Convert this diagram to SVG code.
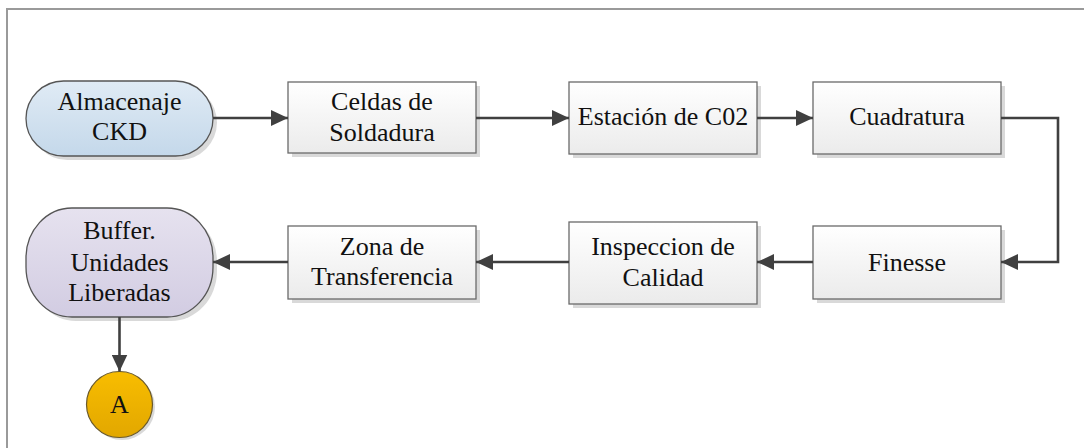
<svg xmlns="http://www.w3.org/2000/svg" width="1084" height="448" viewBox="0 0 1084 448">
<defs>
<linearGradient id="gBox" x1="0" y1="0" x2="0" y2="1"><stop offset="0" stop-color="#ffffff"/><stop offset="1" stop-color="#ebebeb"/></linearGradient>
<linearGradient id="gBlue" x1="0" y1="0" x2="0" y2="1"><stop offset="0" stop-color="#e0ebf5"/><stop offset="1" stop-color="#c4d8ea"/></linearGradient>
<linearGradient id="gLav" x1="0" y1="0" x2="0" y2="1"><stop offset="0" stop-color="#e6e2ef"/><stop offset="1" stop-color="#d2cce2"/></linearGradient>
<linearGradient id="gGold" x1="0" y1="0" x2="0" y2="1"><stop offset="0" stop-color="#f8bd00"/><stop offset="1" stop-color="#e2a700"/></linearGradient>
<marker id="arr" markerUnits="userSpaceOnUse" markerWidth="18" markerHeight="16" refX="17" refY="8" orient="auto"><path d="M0,0 L17,8 L0,16 Z" fill="#404040"/></marker>
<style>
.box{fill:url(#gBox);stroke:#6a6a6a;stroke-width:1.3}
.sh{fill:#d9d9d9}
.t{font-family:"Liberation Serif","Times New Roman",serif;font-size:26px;fill:#111;text-anchor:middle}
.c{fill:none;stroke:#404040;stroke-width:2.6;marker-end:url(#arr)}
</style>
</defs>
<rect width="1084" height="448" fill="#ffffff"/>
<path d="M7,448 V9 H1084" fill="none" stroke="#9a9a9a" stroke-width="2"/>
<g id="almacenaje">
<rect class="sh" x="30" y="85" width="187" height="75" rx="37.5"/>
<rect x="26" y="81" width="187" height="75" rx="37.5" fill="url(#gBlue)" stroke="#555" stroke-width="1.3"/>
<text class="t" x="119.5" y="110">Almacenaje</text>
<text class="t" x="119.5" y="140">CKD</text>
</g>
<g id="celdas">
<rect class="sh" x="292" y="86" width="188" height="71"/>
<rect class="box" x="288" y="82" width="188" height="71"/>
<text class="t" x="382" y="110">Celdas de</text>
<text class="t" x="382" y="141">Soldadura</text>
</g>
<g id="estacion">
<rect class="sh" x="573" y="86" width="188" height="72"/>
<rect class="box" x="569" y="82" width="188" height="72"/>
<text class="t" x="663" y="125">Estación de C02</text>
</g>
<g id="cuadratura">
<rect class="sh" x="817" y="86" width="188" height="72"/>
<rect class="box" x="813" y="82" width="188" height="72"/>
<text class="t" x="907" y="125">Cuadratura</text>
</g>
<g id="finesse">
<rect class="sh" x="817" y="230" width="188" height="73"/>
<rect class="box" x="813" y="226" width="188" height="73"/>
<text class="t" x="907" y="271">Finesse</text>
</g>
<g id="inspeccion">
<rect class="sh" x="573" y="226" width="188" height="82"/>
<rect class="box" x="569" y="222" width="188" height="82"/>
<text class="t" x="663" y="255">Inspeccion de</text>
<text class="t" x="663" y="286">Calidad</text>
</g>
<g id="zona">
<rect class="sh" x="292" y="230" width="188" height="73"/>
<rect class="box" x="288" y="226" width="188" height="73"/>
<text class="t" x="382" y="255">Zona de</text>
<text class="t" x="382" y="285">Transferencia</text>
</g>
<g id="buffer">
<rect class="sh" x="30" y="212" width="187" height="109" rx="46" ry="50"/>
<rect x="26" y="208" width="187" height="109" rx="46" ry="50" fill="url(#gLav)" stroke="#555" stroke-width="1.3"/>
<text class="t" x="119.5" y="239">Buffer.</text>
<text class="t" x="119.5" y="271">Unidades</text>
<text class="t" x="119.5" y="301">Liberadas</text>
</g>
<g id="a">
<circle cx="122" cy="407" r="33" fill="#d9d9d9"/>
<circle cx="119.5" cy="404.5" r="33" fill="url(#gGold)" stroke="#6b5a2a" stroke-width="1.2"/>
<text class="t" x="119.5" y="413">A</text>
</g>
<g id="connectors">
<path class="c" d="M213,118 H288"/>
<path class="c" d="M476,118 H569"/>
<path class="c" d="M757,118 H813"/>
<path class="c" d="M1001,118 H1058 V262 H1001"/>
<path class="c" d="M813,262 H757"/>
<path class="c" d="M569,262 H476"/>
<path class="c" d="M288,262 H213"/>
<path class="c" d="M119.5,317 V371.5"/>
</g>
</svg>
